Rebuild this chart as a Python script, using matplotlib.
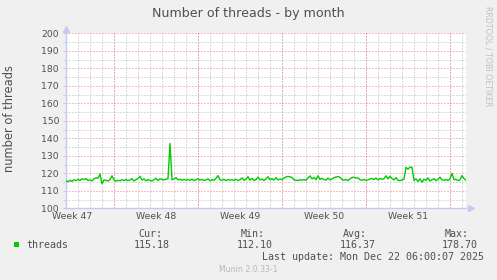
import matplotlib
matplotlib.use("Agg")
import matplotlib.pyplot as plt
from matplotlib.patches import Rectangle
import numpy as np

# threads sampled every 4 hours (6 per day) over the month view
threads = [
    115.6, 115.2, 116.0, 115.4, 116.3, 115.8, 116.6, 115.9, 116.8, 116.4,
    117.0, 115.9, 116.2, 115.7, 116.9, 117.4, 117.2, 119.6, 114.0, 116.2,
    116.0, 115.6, 116.4, 118.6, 116.2, 115.5, 116.0, 115.7, 116.3, 115.9,
    116.5, 115.8, 116.2, 116.9, 115.6, 116.4, 117.0, 118.3, 116.1, 116.8,
    115.7, 116.4, 116.0, 115.6, 116.3, 117.2, 115.8, 116.9, 116.5, 116.2,
    116.6, 117.0, 137.0, 116.3, 116.8, 117.5, 116.2, 116.6, 116.0, 116.5,
    116.1, 116.4, 116.0, 116.7, 115.8, 116.3, 116.9, 116.1, 116.5, 115.9,
    116.2, 116.8, 115.7, 116.4, 116.0, 117.2, 118.7, 116.2, 116.0, 116.6,
    115.8, 116.4, 116.1, 116.3, 115.9, 116.6, 115.8, 116.3, 117.4, 116.0,
    116.6, 118.1, 116.0, 117.2, 115.8, 116.4, 117.9, 116.2, 116.7, 115.9,
    116.8, 118.0, 116.3, 117.0, 116.1, 117.6, 116.2, 116.7, 116.4, 117.3,
    117.9, 118.2, 118.0, 117.6, 116.2, 116.0, 115.9, 116.3, 116.1, 116.4,
    116.0, 117.4, 118.5, 116.8, 117.6, 116.3, 118.6, 116.5, 117.2, 116.4,
    116.1, 117.3, 116.2, 116.8, 117.5, 117.9, 118.1, 117.7, 116.4, 116.0,
    116.5, 115.8, 116.9, 117.6, 117.8, 117.2, 117.4, 116.3, 116.0, 116.5,
    115.9, 116.3, 116.7, 117.0, 116.4, 117.3, 116.2, 117.1, 116.6, 116.9,
    118.6, 116.8, 118.3, 117.0, 116.2, 117.5, 116.0, 115.8, 116.2, 116.6,
    123.4, 122.4, 123.6, 123.4, 115.9, 116.8, 115.3, 116.9, 114.9, 116.6,
    116.0, 117.4, 115.6, 116.3, 116.9, 115.8, 116.5, 117.8, 116.2, 116.0,
    116.4, 115.9, 116.8, 120.0, 116.3, 116.6, 115.8, 116.2, 118.7, 117.0,
    116.0,
]
samples_per_day = 6

week_labels = ["Week 47", "Week 48", "Week 49", "Week 50", "Week 51"]
week_label_days = [0.5, 7.5, 14.5, 21.5, 28.5]
week_start_days = [4, 11, 18, 25, 32]

stat_names = ["Cur:", "Min:", "Avg:", "Max:"]
stat_values = ["115.18", "112.10", "116.37", "178.70"]
last_update = "Last update: Mon Dec 22 06:00:07 2025"

bg = "#f0f0f0"
txt = "#505050"
green = "#00cc00"
red_grid = "#f08080"
gray_grid = "#b8b8b8"
axis_col = "#c8c8f4"

fig = plt.figure(figsize=(4.97, 2.8), dpi=100, facecolor=bg)
W, H = 497, 280
ax = fig.add_axes([66 / W, 1 - 208.3 / H, 400 / W, 175 / H])
ax.set_facecolor("white")

t = np.arange(len(threads)) / samples_per_day
ax.plot(t, threads, color=green, lw=1.0, zorder=3)

ax.set_xlim(0, (len(threads) - 1) / samples_per_day)
ax.set_ylim(100, 200)

dots = (0, (1, 2))
# x: week labels as major ticks, days as minor grid, week starts in red
ax.set_xticks(week_label_days)
ax.set_xticklabels(week_labels)
ax.set_xticks(np.arange(0, 34), minor=True)
ax.grid(which="minor", axis="x", color=gray_grid, lw=0.72, ls=dots)
for d in week_start_days:
    ax.axvline(d, color=red_grid, lw=0.72, ls=dots, zorder=1)

# y: red every 10, gray every 5
ax.set_yticks(np.arange(100, 201, 10))
ax.set_yticks(np.arange(105, 200, 10), minor=True)
ax.grid(which="major", axis="y", color=red_grid, lw=0.72, ls=dots)
ax.grid(which="minor", axis="y", color=gray_grid, lw=0.72, ls=dots)
ax.set_axisbelow(True)

ax.tick_params(axis="x", which="both", length=0, pad=3, labelsize=6.7, labelcolor=txt)
ax.tick_params(axis="y", which="major", length=2, color=axis_col, pad=3,
               labelsize=6.7, labelcolor=txt)
ax.tick_params(axis="y", which="minor", length=2, color=axis_col)

for s in ["top", "right"]:
    ax.spines[s].set_visible(False)
for s in ["left", "bottom"]:
    ax.spines[s].set_color(axis_col)
    ax.spines[s].set_linewidth(1)

# axis arrows
ax.plot([0], [1.025], marker="^", ms=4, color=axis_col, transform=ax.transAxes, clip_on=False)
ax.plot([1.012], [0], marker=">", ms=4, color=axis_col, transform=ax.transAxes, clip_on=False)

fig.text(248 / W, 1 - 13 / H, "Number of threads - by month", ha="center", va="center",
         fontsize=9.1, color=txt)
fig.text(10 / W, 1 - 119 / H, "number of threads", rotation=90, ha="center", va="center",
         fontsize=8.3, color=txt)
fig.text(488 / W, 1 - 56 / H, "RRDTOOL / TOBI OETIKER", rotation=-90, ha="center",
         va="center", fontsize=5.7, color="#c0c0c0")

# legend block
mono = "DejaVu Sans Mono"
fig.patches.append(Rectangle((14 / W, 1 - 247 / H), 5 / W, 5 / H, transform=fig.transFigure,
                             facecolor=green, edgecolor="none"))
fig.text(26 / W, 1 - 245 / H, "threads", ha="left", va="center", fontsize=7.2,
         family=mono, color=txt)
name_x = [162, 265, 367, 469]
val_x = [170, 273, 376, 478]
for nm, nx in zip(stat_names, name_x):
    fig.text(nx / W, 1 - 234 / H, nm, ha="right", va="center", fontsize=7.2,
             family=mono, color=txt)
for v, vx in zip(stat_values, val_x):
    fig.text(vx / W, 1 - 245.5 / H, v, ha="right", va="center", fontsize=7.2,
             family=mono, color=txt)
fig.text(484 / W, 1 - 257.5 / H, last_update, ha="right", va="center", fontsize=7.2,
         family=mono, color=txt)
fig.text(248 / W, 1 - 269 / H, "Munin 2.0.33-1", ha="center", va="center", fontsize=5.6,
         color="#b8b8b8")

fig.savefig("out.png", dpi=100, facecolor=bg)
